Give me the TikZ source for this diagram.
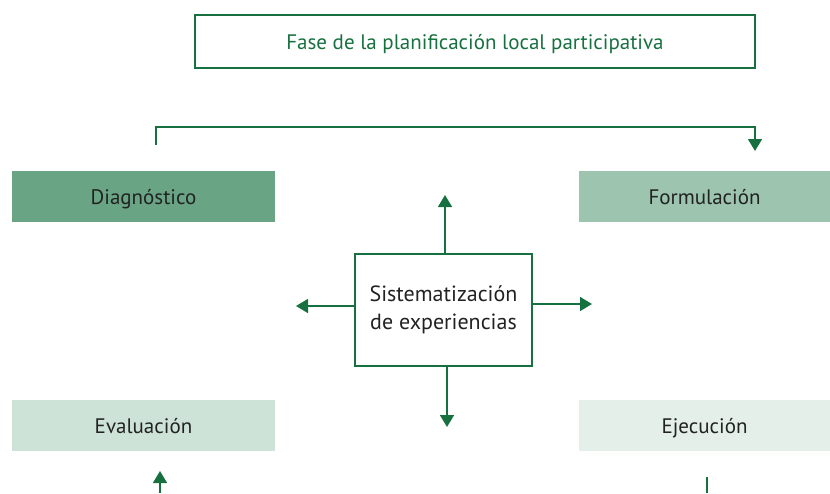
\documentclass[tikz,border=0pt]{standalone}
\usepackage{fontspec}
\setmainfont{PT Sans}
\usetikzlibrary{arrows.meta}
\definecolor{lineg}{HTML}{17703F}
\definecolor{fdiag}{HTML}{69A585}
\definecolor{fform}{HTML}{9CC4AF}
\definecolor{feval}{HTML}{CEE3D7}
\definecolor{fejec}{HTML}{E3EFE8}
\definecolor{txt}{HTML}{222222}
\tikzset{
  phase/.style={draw=none, minimum height=51pt, inner sep=0pt, text=txt, text height=15pt, text depth=0pt, font=\fontsize{21}{25}\selectfont},
  conn/.style={draw=lineg, line width=1.6pt, -{Triangle[width=14pt,length=12pt]}},
  plainconn/.style={draw=lineg, line width=1.6pt},
  outl/.style={draw=lineg, line width=1.3pt, inner sep=0pt}
}
\begin{document}
\begin{tikzpicture}[x=1pt,y=-1pt]
\useasboundingbox (0,0) rectangle (830,493);
% title
\node[outl, minimum width=560pt, minimum height=53pt, text=lineg, text height=15pt, text depth=0pt, font=\fontsize{21}{25}\selectfont] (title) at (475,41.5) {Fase de la planificación local participativa};
% phase boxes
\node[phase, fill=fdiag, minimum width=263pt] (diag) at (143.5,196.5) {Diagnóstico};
\node[phase, fill=fform, minimum width=251pt] (form) at (704.5,196.5) {Formulación};
\node[phase, fill=feval, minimum width=263pt] (eval) at (143.5,425.5) {Evaluación};
\node[phase, fill=fejec, minimum width=251pt] (ejec) at (704.5,425.5) {Ejecución};
% center
\node[outl, minimum width=177pt, minimum height=112pt, text=txt, align=center, font=\fontsize{22}{28}\selectfont] (sis) at (443.5,310) {Sistematización\\de experiencias};
% bracket
\coordinate (b1) at (156,145);
\coordinate (b2) at (755,151);
\draw[conn] (b1) -- (156,127) -- (755,127) -- (b2);
% center arrows
\coordinate (tu) at (445,195);
\coordinate (tl) at (296,306);
\coordinate (tr) at (592,304);
\coordinate (td) at (447,427);
\draw[conn] (sis.north -| tu) -- (tu);
\draw[conn] (sis.west |- tl) -- (tl);
\draw[conn] (sis.east |- tr) -- (tr);
\draw[conn] (sis.south -| td) -- (td);
% bottom partial arrows
\coordinate (bl0) at (160,493);
\coordinate (bl1) at (160,471);
\draw[conn] (bl0) -- (bl1);
\coordinate (br0) at (707,493);
\coordinate (br1) at (707,477);
\draw[plainconn] (br0) -- (br1);
\end{tikzpicture}
\end{document}
